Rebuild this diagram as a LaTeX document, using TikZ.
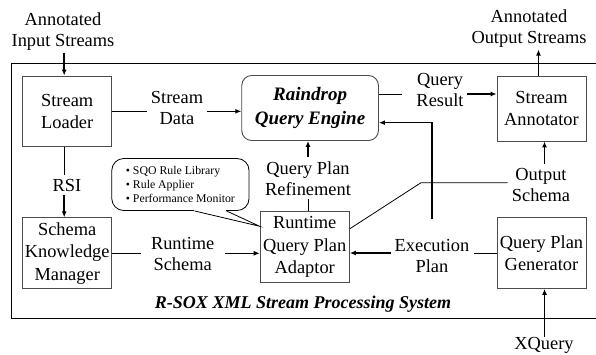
\documentclass[tikz,border=0pt]{standalone}
\usepackage{fontspec}
\setmainfont{Liberation Serif}
\usetikzlibrary{arrows.meta,positioning,calc}

\begin{document}
\begin{tikzpicture}[x=1pt,y=-1pt,
    block/.style={draw=black!70, line width=0.9pt, minimum width=89pt, align=center, inner sep=0pt, font=\fontsize{18.4}{22.5}\selectfont},
    lbl/.style={align=center, inner sep=4pt, font=\fontsize{18.4}{21}\selectfont},
    flow/.style={-{Latex[length=6pt,width=5pt]}, line width=1.5pt},
    link/.style={line width=0.8pt}]
    \useasboundingbox (0,0) rectangle (596,354);

    % System frame
    \draw[line width=1pt] (596,63.3) -- (11,63.3) -- (11,318.3) -- (596,318.3);
    \node[font=\bfseries\itshape\fontsize{18}{21}\selectfont] (title) at (303,304) {R-SOX XML Stream Processing System};

    % Components
    \node[block, minimum height=70.7pt] (loader) at (67.2,111.3) {Stream\\Loader};
    \node[block, minimum height=71pt] (skm) at (67.2,253.3) {Schema\\Knowledge\\Manager};
    \node[block, rounded corners=10pt, minimum width=136.7pt, minimum height=65pt, font=\bfseries\itshape\fontsize{19}{23.4}\selectfont] (engine) at (310.1,108) {Raindrop\\Query Engine};
    \node[block, minimum height=65pt] (annot) at (541.5,108.5) {Stream\\Annotator};
    \node[block, minimum height=71pt] (qpg) at (541.5,253) {Query Plan\\Generator};
    \node[block, minimum width=89.3pt, minimum height=71pt] (adaptor) at (304.7,247.2) {Runtime\\Query Plan\\Adaptor};

    % Rule bubble
    \node[draw, line width=0.8pt, rounded corners=12pt, minimum width=137.3pt, minimum height=52pt, align=left, font=\fontsize{11.8}{13.6}\selectfont] (rules) at (180.4,184.5) {\textbullet\ SQO Rule Library\\\textbullet\ Rule Applier\\\textbullet\ Performance Monitor};
    \coordinate (tA) at ([xshift=83pt]rules.south west);
    \coordinate (tB) at ([xshift=-23pt]rules.south east);
    \coordinate (tC) at ([yshift=-15pt]adaptor.north west);
    \draw[white, line width=1.6pt] (tA) -- (tB);
    \draw[line width=0.8pt] (tA) -- (tC) -- (tB);

    % Labels
    \node[lbl, inner sep=2pt] (ain) at (63,31.5) {Annotated\\Input Streams};
    \node[lbl, inner sep=2pt] (aout) at (529,28.5) {Annotated\\Output Streams};
    \node[lbl] (sdata) at (177,108) {Stream\\Data};
    \node[lbl, inner sep=3.5pt] (qres) at (440,90) {Query\\Result};
    \node[lbl] (qpr) at (308,178.3) {Query Plan\\Refinement};
    \node[lbl] (rsi) at (67,185) {RSI};
    \node[lbl, inner xsep=10pt] (rsch) at (182.7,253.5) {Runtime\\Schema};
    \node[lbl] (exec) at (432,256.3) {Execution\\Plan};
    \node[lbl] (osch) at (541,185) {Output\\Schema};
    \node[inner sep=0pt, anchor=base, font=\fontsize{18.4}{21}\selectfont] (xq) at (544,349) {XQuery};

    % Input and output streams
    \coordinate (inA) at ([xshift=-3pt]loader.north);
    \draw[flow] (inA |- ain.south) -- (inA);
    \coordinate (oA) at ([xshift=-3pt]annot.north);
    \draw[flow] (oA) -- (oA |- aout.south);
    \coordinate (xA) at ([xshift=3pt]qpg.south);
    \draw[flow] (xA |- xq.north) -- (xA);

    % Stream data
    \draw[link] (loader.east) -- (loader.east -| sdata.west);
    \draw[flow] (sdata.east |- loader.east) -- (loader.east -| engine.west);

    % Query result
    \coordinate (rA) at ([yshift=14pt]engine.east);
    \coordinate (rB) at ($(rA -| qres.west)+(-11,0)$);
    \draw[link] (rA) -- (rB);
    \draw[flow] (qres.east |- rA) -- (rA -| annot.west);

    % RSI
    \coordinate (sA) at ([xshift=-3pt]loader.south);
    \draw[link] (sA) -- (sA |- rsi.north);
    \draw[flow] (sA |- rsi.south) -- (sA |- skm.north);

    % Runtime schema
    \draw[link] (skm.east) -- (skm.east -| rsch.west);
    \draw[-{Latex[length=6pt,width=5pt]}, line width=0.9pt] (rsch.east |- skm.east) -- (skm.east -| adaptor.west);

    % Execution plan
    \draw[link] (qpg.west) -- (qpg.west -| exec.east);
    \draw[flow] (exec.west |- qpg.west) -- (qpg.west -| adaptor.east);
    \coordinate (eA) at ([yshift=-14.7pt]engine.east);
    \coordinate (eB) at ($(exec.north)+(0,-16)$);
    \draw[flow] (eB) -- (eB |- eA) -- (eA);

    % Plan refinement
    \draw[link] (adaptor.north -| qpr.south) -- (qpr.south);
    \draw[flow] (qpr.north) -- (qpr.north |- engine.south);

    % Output schema
    \coordinate (bend) at (421,182.7);
    \draw[link] ([yshift=-17.5pt]adaptor.north east) -- (bend) -- (bend -| osch.west);
    \coordinate (oB) at ([xshift=3pt]annot.south);
    \draw[flow] (oB |- osch.north) -- (oB);
\end{tikzpicture}
\end{document}
